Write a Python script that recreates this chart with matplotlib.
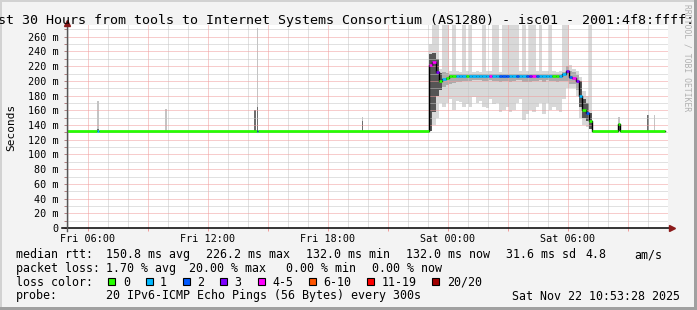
"""SmokePing-style latency chart: last 30 hours tools -> ISC (AS1280)."""
import matplotlib
matplotlib.use("Agg")
import matplotlib.pyplot as plt
from matplotlib.patches import Rectangle

W, H = 697, 310
MONO = "DejaVu Sans Mono"

# ---------- data (time in hours since Fri 00:00, rtt in ms) ----------
loss_labels = ["0", "1", "2", "3", "4-5", "6-10", "11-19", "20/20"]
loss_colors = ["#26ff00", "#00b8ff", "#0059ff", "#7e00ff", "#ff00ff",
               "#ff5500", "#ff0000", "#a10000"]

xtick_hours = [6, 12, 18, 24, 30]
xtick_labels = ["Fri 06:00", "Fri 12:00", "Fri 18:00", "Sat 00:00", "Sat 06:00"]
ytick_ms = [0, 20, 40, 60, 80, 100, 120, 140, 160, 180, 200, 220, 240, 260]

# quiet periods: median segments (start hour, ms, loss bucket)
med_pre_t = [4.95, 6.45, 6.53, 14.43, 14.52]
med_pre_ms = [132, 132, 132, 132, 132]
med_pre_loss = [0, 1, 0, 2, 0]
med_post_t = [31.22, 32.52, 32.60]
med_post_ms = [132, 141, 132]
med_post_loss = [0, 0, 0]
data_end = 34.85

# busy period, 10 minute steps from 23:03
busy_t0 = 23.05
busy_step = 1 / 6
busy_med = [222, 226, 212, 200, 203, 204, 207, 207, 207, 207,
            207, 206, 207, 207, 207, 207, 207, 207, 207, 207,
            207, 206, 207, 207, 207, 207, 207, 206, 207, 206,
            207, 207, 207, 207, 207, 207, 207, 207, 206, 207,
            210, 214, 205, 204, 200, 180, 160, 157, 146]
busy_loss = [4, 4, 3, 0, 1, 0, 0, 0, 1, 1,
             1, 0, 1, 1, 1, 1, 1, 1, 4, 1,
             1, 2, 2, 2, 1, 1, 2, 1, 1, 2,
             3, 4, 2, 1, 1, 1, 1, 0, 0, 1,
             1, 3, 2, 4, 3, 1, 0, 2, 0]
busy_light_lo = [132, 140, 150, 170, 165, 170, 176, 160, 172, 171,
                 165, 168, 165, 178, 170, 172, 165, 163, 175, 168,
                 170, 158, 160, 165, 158, 160, 170, 175, 147, 155,
                 160, 158, 165, 170, 155, 170, 160, 165, 160, 158,
                 175, 190, 190, 190, 180, 150, 140, 138, 134]
busy_light_hi = [250, 276, 276, 216, 276, 276, 214, 276, 213, 212,
                 276, 214, 276, 212, 213, 212, 276, 213, 214, 276,
                 276, 212, 276, 276, 276, 276, 276, 213, 276, 213,
                 276, 276, 214, 276, 213, 213, 276, 213, 212, 213,
                 276, 276, 222, 216, 214, 205, 186, 180, 276]
busy_dark_lo = [132, 158, 180, 188, 192, 194, 196, 197, 198, 199,
                200, 200, 200, 201, 201, 201, 200, 200, 201, 200,
                200, 199, 200, 200, 199, 200, 201, 201, 199, 199,
                199, 200, 200, 201, 199, 201, 200, 200, 199, 200,
                200, 200, 196, 196, 188, 165, 150, 146, 135]
busy_dark_hi = [236, 238, 230, 211, 212, 211, 210, 210, 210, 210,
                209, 209, 209, 209, 209, 209, 209, 209, 209, 210,
                209, 209, 209, 209, 210, 209, 209, 209, 209, 209,
                209, 209, 209, 209, 209, 209, 209, 209, 209, 209,
                212, 220, 214, 212, 208, 200, 176, 170, 156]

# isolated smoke spikes during the quiet periods (5 minute steps, base 132 ms)
spike_step = 5 / 60
spike_t = [6.45, 9.85, 14.32, 14.43, 19.68, 32.50, 33.95, 34.28]
spike_light_hi = [173, 162, 132, 272, 151, 151, 154, 153]
spike_dark_hi = [134, 132, 160, 165, 146, 140, 154, 132]
spike_base = 132

# legend text
rtt_items = [("median rtt:", 16), ("150.8 ms avg", 107), ("226.2 ms max", 207),
             ("132.0 ms min", 307), ("132.0 ms now", 407), ("31.6 ms sd", 507),
             ("4.8", 586), ("am/s", 635)]
loss_items = [("packet loss:", 16), ("1.70 % avg", 107), ("20.00 % max", 190),
              ("0.00 % min", 286), ("0.00 % now", 372)]
probe_items = [("probe:", 16), ("20 IPv6-ICMP Echo Pings (56 Bytes) every 300s", 107),
               ("Sat Nov 22 10:53:28 2025", 513)]
title = ("Last 30 Hours from tools to Internet Systems Consortium (AS1280)"
         " - isc01 - 2001:4f8:ffff::2")


def fx(x):
    return x / W


def fy(y):
    return 1 - y / H


fig = plt.figure(figsize=(W / 100, H / 100), dpi=100, facecolor="#f3f3f3")

# 3d-ish border
for x0, y0, w, h, c in [(0, 0, W, 2, "#d2d2d2"), (0, 0, 2, H, "#d2d2d2"),
                        (W - 3, 0, 3, H, "#a0a0a0"), (0, H - 3, W, 3, "#a0a0a0")]:
    fig.patches.append(Rectangle((fx(x0), fy(y0 + h)), w / W, h / H,
                                 transform=fig.transFigure, color=c, lw=0))

ax = fig.add_axes([fx(67), fy(228), (668 - 67) / W, (228 - 25) / H])
ax.set_facecolor("white")
ax.set_xlim(4.95, 35.0)
ax.set_ylim(0, 276)

# ---------- smoke ----------
busy_t = [busy_t0 + k * busy_step for k in range(len(busy_med))]
dark_span = [h - l for l, h in zip(busy_dark_lo, busy_dark_hi)]
ax.bar(busy_t, [h - l for l, h in zip(busy_light_lo, busy_light_hi)], bottom=busy_light_lo,
       width=busy_step, align="edge", color="#d8d8d8", lw=0, zorder=1)
ax.bar(busy_t, dark_span, bottom=busy_dark_lo, width=busy_step, align="edge",
       color=["#555555" if s > 20 else "#ababab" for s in dark_span], lw=0, zorder=1.2)
ax.bar(spike_t, [h - spike_base for h in spike_light_hi], bottom=spike_base,
       width=spike_step, align="edge", color="#c4c4c4", lw=0, zorder=1)
ax.bar(spike_t, [h - spike_base for h in spike_dark_hi], bottom=spike_base,
       width=spike_step, align="edge", color="#6e6e6e", lw=0, zorder=1.2)

# ---------- median, coloured by loss ----------
med_t = med_pre_t + busy_t + med_post_t
med_ms = med_pre_ms + busy_med + med_post_ms
med_loss = med_pre_loss + busy_loss + med_post_loss
edges = med_t + [data_end]
ax.step(edges, med_ms + [med_ms[-1]], where="post", color="black", lw=1.0, zorder=3)
ax.hlines(med_ms, edges[:-1], edges[1:], colors=[loss_colors[i] for i in med_loss],
          lw=1.9, zorder=4)

# ---------- grid ----------
ax.set_xticks(range(6, 35, 3))
ax.set_xticklabels([xtick_labels[xtick_hours.index(h)] if h in xtick_hours else ""
                    for h in range(6, 35, 3)])
ax.set_xticks(range(5, 35), minor=True)
ax.set_yticks(ytick_ms)
ax.set_yticklabels([f"{v} m" if v else "0" for v in ytick_ms])
ax.set_yticks(range(10, 276, 20), minor=True)
ax.set_axisbelow(False)
ax.grid(which="minor", color="#c4c4c4", linestyle=(0, (1, 1)), lw=0.72)
ax.grid(which="major", color="#f09a9a", linestyle=(0, (1, 1)), lw=0.72)
for lab in ax.get_xticklabels() + ax.get_yticklabels():
    lab.set_fontfamily(MONO)
ax.tick_params(axis="x", which="major", length=2.5, width=0.7, color="#f09a9a",
               pad=1.5, labelsize=7.3)
ax.tick_params(axis="x", which="minor", length=0)
ax.tick_params(axis="y", which="both", length=2.5, width=0.7, color="#b08080",
               pad=3.5, labelsize=7.3)
for s in ax.spines.values():
    s.set_visible(False)

# axes with arrows
ax.plot([-5 / 601, 602 / 601], [0, 0], transform=ax.transAxes, color="black",
        lw=1.1, clip_on=False, zorder=5)
ax.plot([0, 0], [-3 / 203, 1.0], transform=ax.transAxes, color="#555555",
        lw=1.0, clip_on=False, zorder=5)
ax.plot([605 / 601], [0], transform=ax.transAxes, marker=">", ms=4.5,
        color="#8b1a1a", clip_on=False, zorder=6)
ax.plot([0], [205 / 203], transform=ax.transAxes, marker="^", ms=4.5,
        color="#8b1a1a", clip_on=False, zorder=6)

# ---------- texts ----------
fig.text(fx(-17.5), fy(24), title, fontsize=9.62, family=MONO, va="baseline")
fig.text(fx(11), fy(127), "Seconds", rotation=90, fontsize=8.0, family=MONO,
         ha="center", va="center")
fig.text(fx(687), fy(4), "RRDTOOL / TOBI OETIKER", rotation=270, fontsize=5.8,
         family=MONO, color="#b0b0b0", ha="center", va="top")

for items, base in [(rtt_items, 258), (loss_items, 272.3), (probe_items, 299.5)]:
    for s, x in items:
        fig.text(fx(x - 0.5), fy(base), s, fontsize=8.37, family=MONO, va="baseline")

fig.text(fx(15.5), fy(285.7), "loss color:", fontsize=8.37, family=MONO, va="baseline")
bx = 108.3
for lab, col in zip(loss_labels, loss_colors):
    fig.patches.append(Rectangle((fx(bx), fy(285)), 7 / W, 7 / H, transform=fig.transFigure,
                                 facecolor=col, edgecolor="black", lw=0.8))
    fig.text(fx(bx + 14.5), fy(285.7), lab, fontsize=8.37, family=MONO, va="baseline")
    bx += 30.3 + 7 * len(lab)

fig.savefig("out.png", dpi=100, facecolor=fig.get_facecolor())
